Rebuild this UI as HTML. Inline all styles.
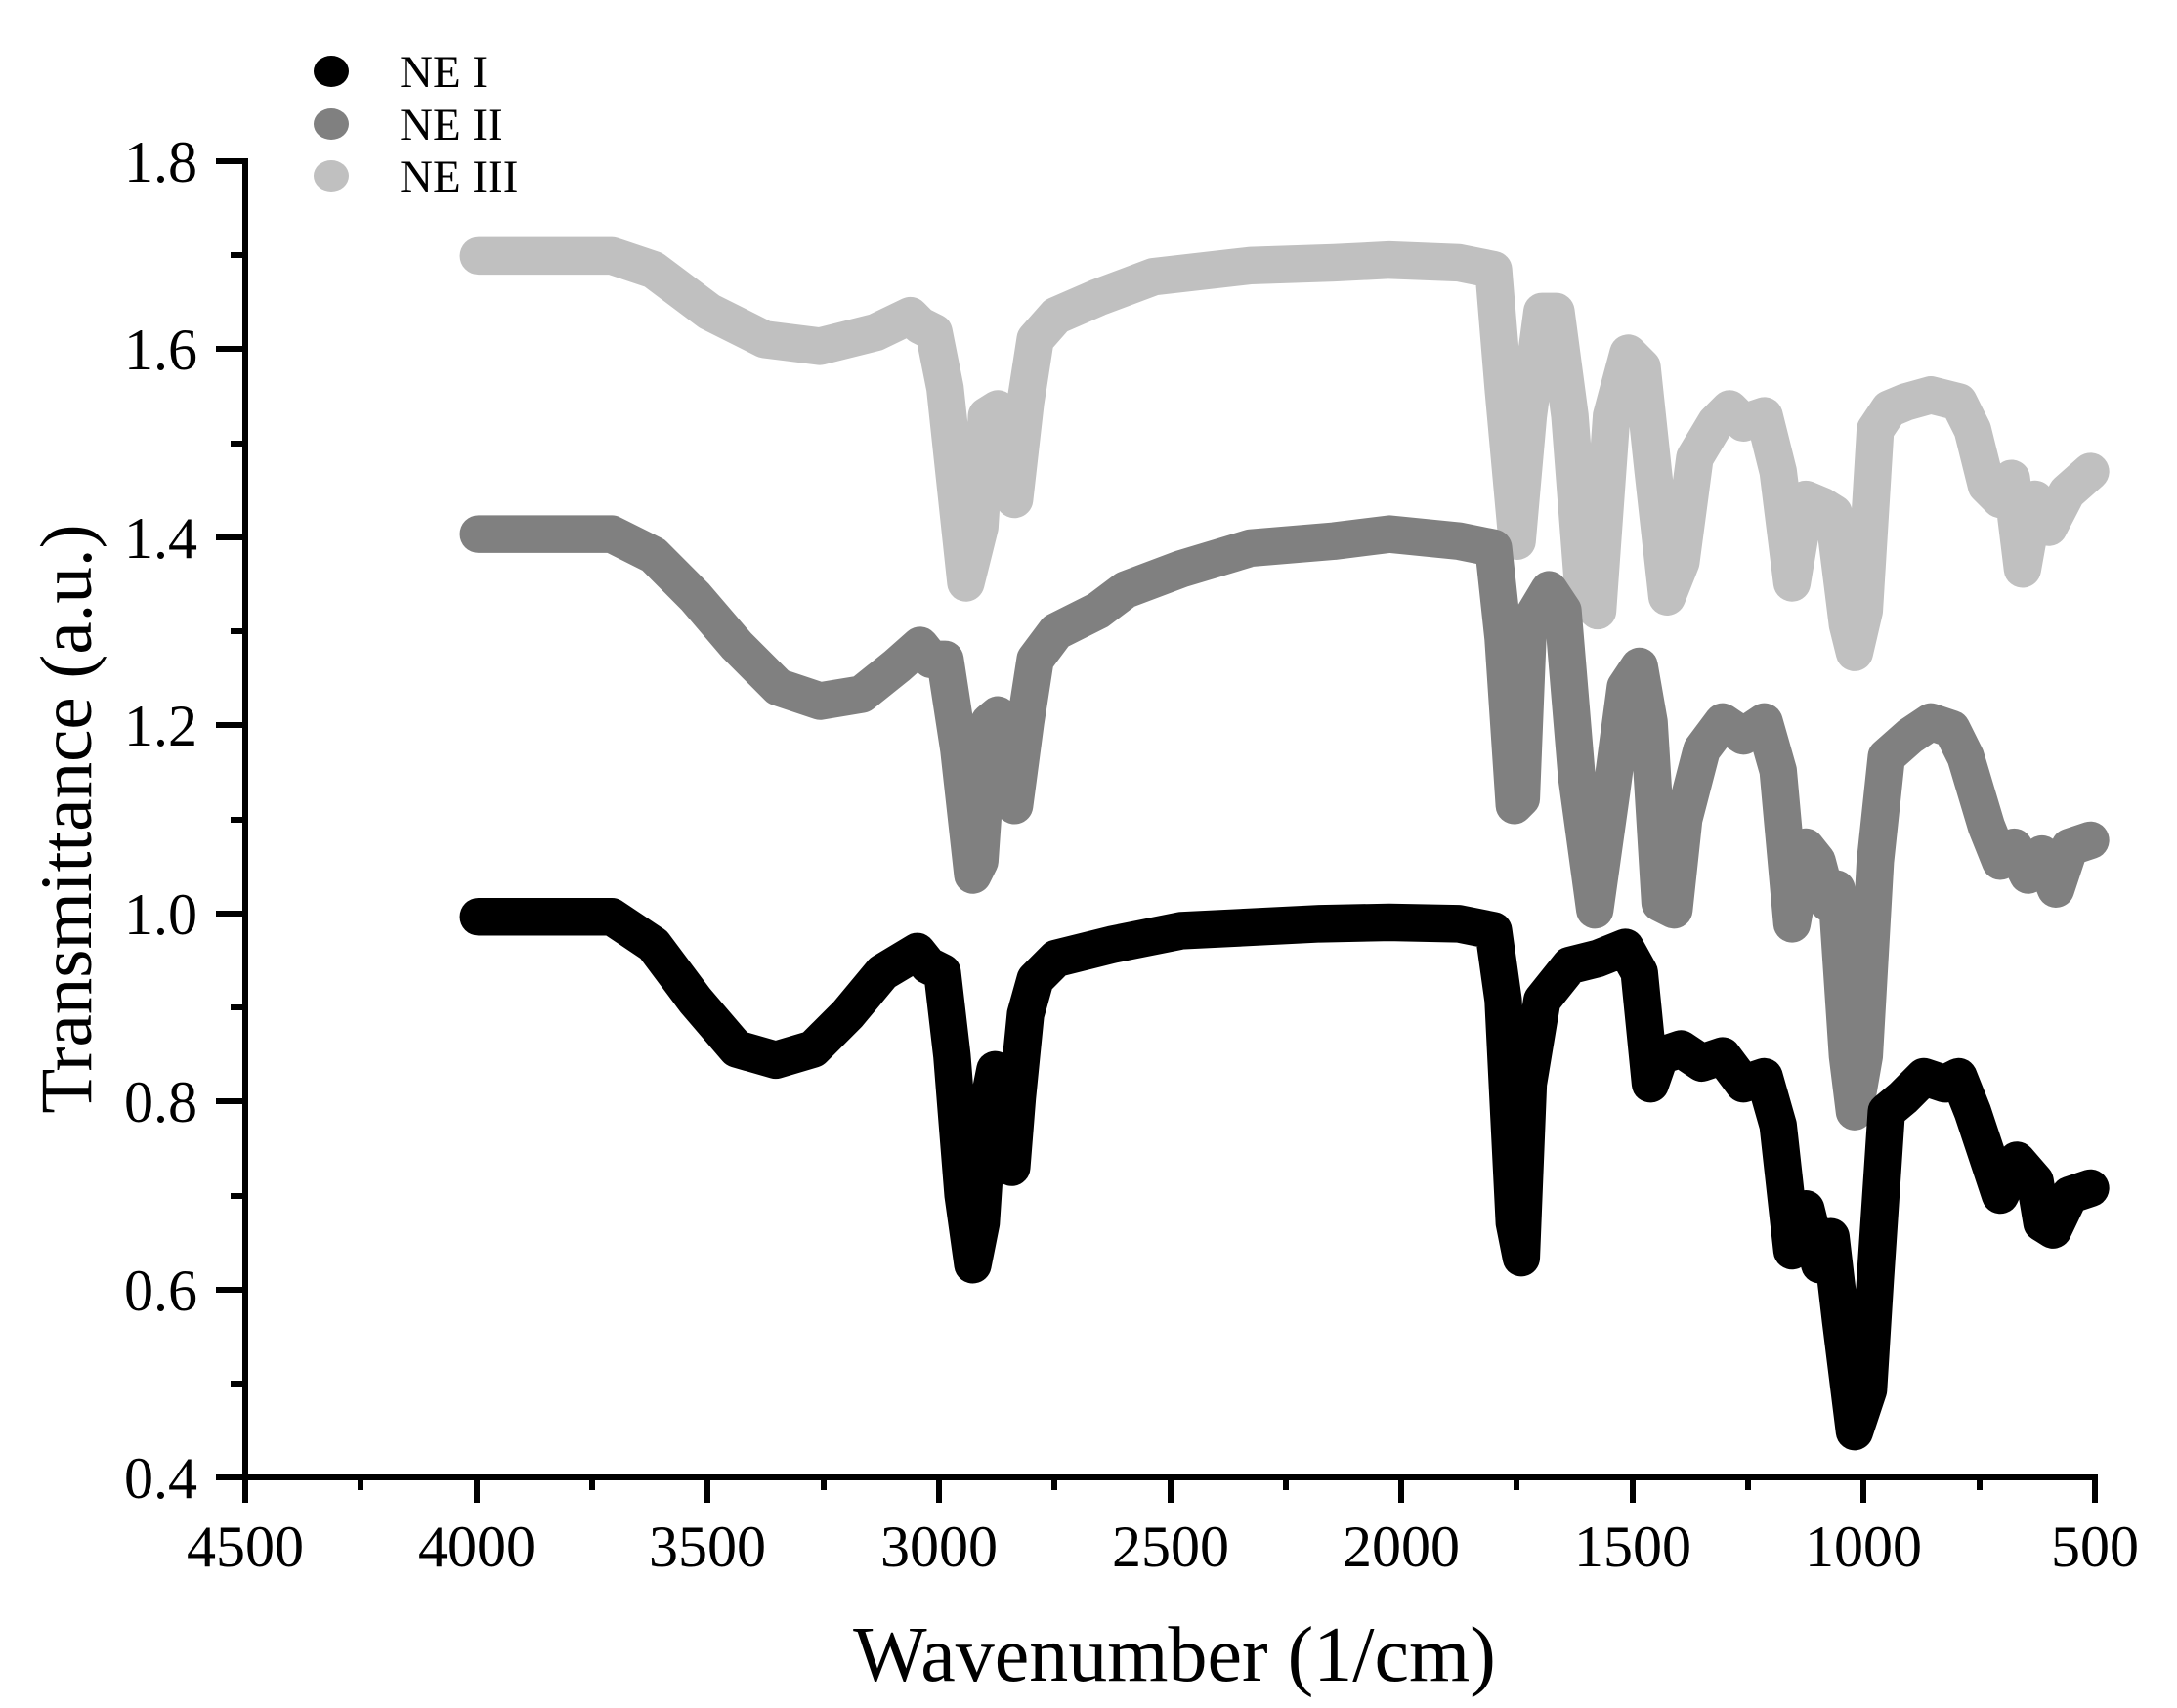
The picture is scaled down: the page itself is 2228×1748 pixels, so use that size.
<!DOCTYPE html>
<html><head><meta charset="utf-8"><style>
html,body{margin:0;padding:0;background:#fff}
svg{display:block}
text{font-family:"Liberation Serif",serif;fill:#000}
</style></head><body>
<svg width="2228" height="1748" viewBox="0 0 2228 1748" xmlns="http://www.w3.org/2000/svg">
<g transform="translate(0.9,-1.6) scale(1.421,1.424)" fill="none" stroke-linecap="round" stroke-linejoin="round" stroke-width="27">
<path stroke="#c0c0c0" d="M344,185 L440,185 L470,195 L510,225 L550,245 L590,250 L630,240 L655,228 L662,235 L672,240 L680,280 L695,420 L705,380 L710,300 L718,295 L725,330 L730,360 L738,290 L745,245 L760,228 L790,215 L830,200 L900,192 L960,190 L1000,188 L1050,190 L1075,195 L1082,280 L1092,390 L1100,300 L1110,225 L1120,225 L1130,300 L1140,430 L1150,440 L1160,300 L1172,255 L1182,265 L1190,340 L1200,430 L1210,405 L1220,330 L1235,305 L1245,295 L1255,305 L1270,300 L1280,340 L1290,420 L1300,360 L1312,365 L1320,370 L1330,450 L1335,470 L1342,440 L1350,310 L1360,295 L1372,290 L1390,285 L1410,290 L1420,310 L1430,350 L1440,360 L1448,345 L1456,410 L1465,360 L1475,380 L1488,355 L1505,340"/>
<path stroke="#808080" d="M344,385 L440,385 L470,400 L500,430 L530,465 L560,495 L590,505 L620,500 L645,480 L662,465 L670,475 L680,475 L690,540 L700,630 L705,620 L712,520 L718,515 L725,560 L730,580 L738,520 L745,475 L760,455 L790,440 L810,425 L850,410 L900,395 L960,390 L1000,385 L1050,390 L1075,395 L1082,460 L1090,580 L1095,575 L1100,450 L1115,425 L1125,440 L1135,560 L1148,655 L1160,570 L1170,495 L1180,480 L1187,520 L1195,650 L1205,655 L1212,590 L1225,540 L1240,520 L1255,530 L1270,520 L1280,555 L1290,665 L1300,610 L1308,620 L1316,650 L1322,640 L1330,760 L1335,800 L1342,760 L1350,620 L1358,545 L1375,530 L1390,520 L1405,525 L1415,545 L1430,595 L1440,620 L1450,610 L1460,630 L1470,615 L1480,640 L1490,610 L1505,605"/>
<path stroke="#000" d="M344,660 L440,660 L470,680 L500,720 L530,755 L558,763 L585,755 L610,730 L635,700 L660,685 L668,695 L678,700 L685,760 L693,860 L700,910 L706,880 L712,790 L716,770 L722,800 L728,840 L732,790 L738,730 L745,705 L760,690 L800,680 L850,670 L950,665 L1000,664 L1050,665 L1075,670 L1082,720 L1090,880 L1095,905 L1100,780 L1110,720 L1130,695 L1150,690 L1170,682 L1180,700 L1188,780 L1195,760 L1210,755 L1225,765 L1240,760 L1255,780 L1270,775 L1280,810 L1290,900 L1300,870 L1310,910 L1318,890 L1325,950 L1335,1030 L1345,1000 L1350,920 L1358,800 L1370,790 L1385,775 L1400,780 L1410,775 L1420,800 L1430,830 L1440,860 L1452,835 L1465,850 L1470,880 L1478,885 L1490,860 L1505,855"/>
</g>
<g stroke="#000" stroke-width="6" fill="none">
<path d="M251,162 L251,1515 M248,1512 L2147,1512"/>
<path d="M221,165 H251 M221,357 H251 M221,550 H251 M221,742 H251 M221,935 H251 M221,1127 H251 M221,1320 H251 M221,1512 H251"/>
<path d="M236,261 H251 M236,454 H251 M236,646 H251 M236,839 H251 M236,1031 H251 M236,1224 H251 M236,1416 H251"/>
<path d="M251,1512 V1538 M488,1512 V1538 M724,1512 V1538 M961,1512 V1538 M1198,1512 V1538 M1434,1512 V1538 M1671,1512 V1538 M1907,1512 V1538 M2144,1512 V1538"/>
<path d="M369,1512 V1525 M606,1512 V1525 M843,1512 V1525 M1079,1512 V1525 M1316,1512 V1525 M1552,1512 V1525 M1789,1512 V1525 M2026,1512 V1525"/>
</g>
<g font-size="60" text-anchor="end">
<text x="202" y="186">1.8</text><text x="202" y="378">1.6</text><text x="202" y="571">1.4</text><text x="202" y="763">1.2</text><text x="202" y="956">1.0</text><text x="202" y="1148">0.8</text><text x="202" y="1341">0.6</text><text x="202" y="1533">0.4</text>
</g>
<g font-size="60" text-anchor="middle">
<text x="251" y="1603">4500</text><text x="488" y="1603">4000</text><text x="724" y="1603">3500</text><text x="961" y="1603">3000</text><text x="1198" y="1603">2500</text><text x="1434" y="1603">2000</text><text x="1671" y="1603">1500</text><text x="1907" y="1603">1000</text><text x="2144" y="1603">500</text>
</g>
<text x="1202" y="1720" font-size="80" text-anchor="middle">Wavenumber (1/cm)</text>
<text transform="translate(93,838) rotate(-90)" font-size="75" text-anchor="middle">Transmittance (a.u.)</text>
<ellipse cx="339" cy="73" rx="18" ry="16" fill="#000"/>
<ellipse cx="339" cy="127" rx="18" ry="16" fill="#808080"/>
<ellipse cx="339" cy="180" rx="18" ry="16" fill="#c0c0c0"/>
<g font-size="47"><text x="409" y="89">NE I</text><text x="409" y="143">NE II</text><text x="409" y="196">NE III</text></g>
</svg>
</body></html>
